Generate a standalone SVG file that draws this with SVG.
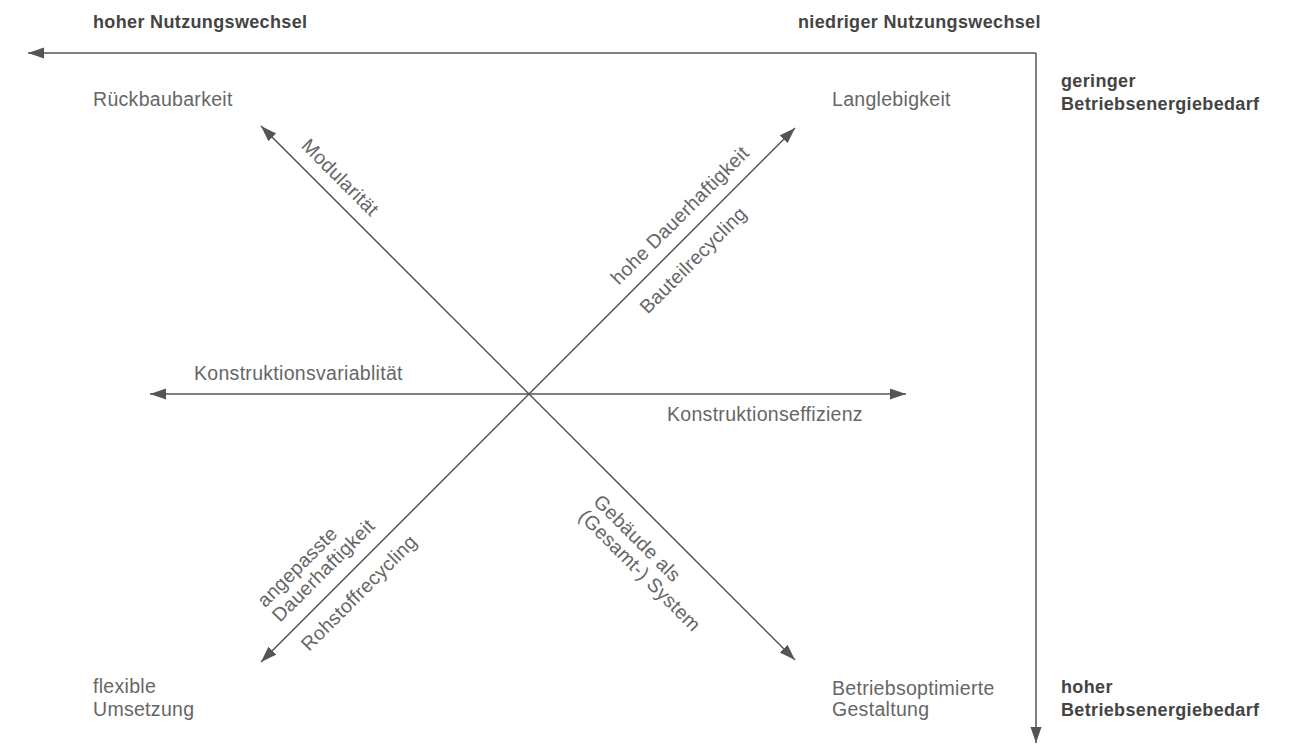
<svg xmlns="http://www.w3.org/2000/svg" width="1297" height="744" viewBox="0 0 1297 744">
  <style>
    .ax { stroke: #555; stroke-width: 1.5; fill: none; }
    .lbl { font-family: "Liberation Sans", Arial, sans-serif; font-size: 19.5px; letter-spacing: 0.3px; fill: #666; }
    .hd { font-family: "Liberation Sans", Arial, sans-serif; font-size: 18px; letter-spacing: 0.35px; font-weight: bold; fill: #444; }
  </style>
  <defs>
    <marker id="ah" markerUnits="userSpaceOnUse" markerWidth="17" markerHeight="12" refX="16" refY="5.5" orient="auto-start-reverse">
      <path d="M0,0 L16,5.5 L0,11 Z" fill="#555"/>
    </marker>
  </defs>
  <rect x="0" y="0" width="1297" height="744" fill="#fff"/>

  <g id="connectors">
    <line class="ax" x1="1036" y1="53" x2="28" y2="53" marker-end="url(#ah)"/>
    <line class="ax" x1="1036" y1="53" x2="1036" y2="743" marker-end="url(#ah)"/>
    <line class="ax" x1="150" y1="394" x2="906" y2="394" marker-start="url(#ah)" marker-end="url(#ah)"/>
    <line class="ax" x1="261" y1="126" x2="795" y2="660" marker-start="url(#ah)" marker-end="url(#ah)"/>
    <line class="ax" x1="261" y1="662" x2="795" y2="128" marker-start="url(#ah)" marker-end="url(#ah)"/>
  </g>

  <g id="axis-labels">
    <text class="hd" x="93" y="28">hoher Nutzungswechsel</text>
    <text class="hd" x="798" y="28">niedriger Nutzungswechsel</text>
    <text class="hd" x="1061" y="87">geringer</text>
    <text class="hd" x="1061" y="110">Betriebsenergiebedarf</text>
    <text class="hd" x="1061" y="693">hoher</text>
    <text class="hd" x="1061" y="716">Betriebsenergiebedarf</text>
  </g>

  <g id="node-rueckbau"><text class="lbl" x="93" y="106">Rückbaubarkeit</text></g>
  <g id="node-langlebigkeit"><text class="lbl" x="832" y="106">Langlebigkeit</text></g>
  <g id="node-flexible">
    <text class="lbl" x="93" y="693">flexible</text>
    <text class="lbl" x="93" y="716">Umsetzung</text>
  </g>
  <g id="node-betrieb">
    <text class="lbl" x="832" y="695">Betriebsoptimierte</text>
    <text class="lbl" x="832" y="716">Gestaltung</text>
  </g>
  <g id="node-variabilitaet"><text class="lbl" x="194" y="380">Konstruktionsvariablität</text></g>
  <g id="node-effizienz"><text class="lbl" x="667" y="421">Konstruktionseffizienz</text></g>

  <g id="node-modularitaet" transform="translate(291,156) rotate(45)">
    <text class="lbl" x="0" y="-13">Modularität</text>
  </g>
  <g id="node-gebaeude" transform="translate(615,480) rotate(45)">
    <text class="lbl" x="0" y="32">Gebäude als</text>
    <text class="lbl" x="0" y="53">(Gesamt-) System</text>
  </g>
  <g id="node-hohe" transform="translate(628,295) rotate(-45)">
    <text class="lbl" x="0" y="-13">hohe Dauerhaftigkeit</text>
    <text class="lbl" x="0" y="28">Bauteilrecycling</text>
  </g>
  <g id="node-angepasst" transform="translate(290,633) rotate(-45)">
    <text class="lbl" x="0" y="-35">angepasste</text>
    <text class="lbl" x="0" y="-14">Dauerhaftigkeit</text>
    <text class="lbl" x="0" y="27">Rohstoffrecycling</text>
  </g>
</svg>
